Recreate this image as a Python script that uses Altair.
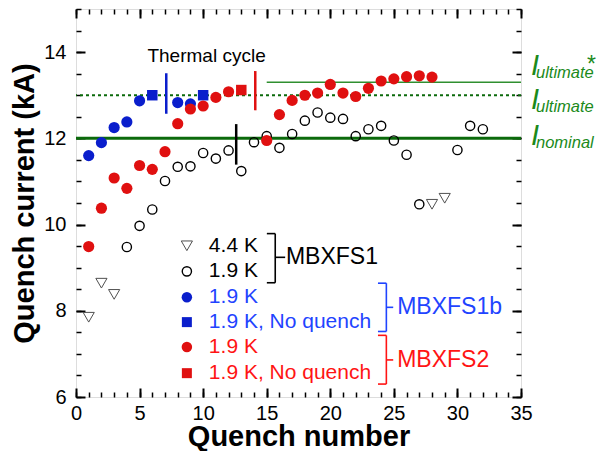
import altair as alt
import pandas as pd

FONT = "Liberation Sans"
BLACK = "#000000"
GRAY = "#505050"
BLUE_M = "#0a1ecc"
BLUE_T = "#1f44ff"
RED_M = "#e01010"
RED_T = "#ff1414"
GREEN_L = "#0b6a0b"
GREEN_L2 = "#2f8f2f"
GREEN_T = "#1b8a1b"

# ---------------- data ----------------
# MBXFS1, 4.4 K (open down-triangles)
mbxfs1_44k_n = [1, 2, 3, 28, 29]
mbxfs1_44k_i = [7.85, 8.64, 8.38, 10.47, 10.61]
# MBXFS1, 1.9 K (open circles)
mbxfs1_19k_n = [4, 5, 6, 7, 8, 9, 10, 11, 12, 13, 14, 15, 16, 17, 18, 19, 20,
                21, 22, 23, 24, 25, 26, 27, 30, 31, 32]
mbxfs1_19k_i = [9.48, 9.97, 10.35, 11.01, 11.34, 11.35, 11.66, 11.53, 11.72,
                11.24, 11.91, 12.05, 11.78, 12.10, 12.41, 12.60, 12.48, 12.45,
                12.05, 12.21, 12.29, 11.95, 11.62, 10.47, 11.73, 12.29, 12.21]
# MBXFS1b, 1.9 K (blue)
mbxfs1b_q_n = [1, 2, 3, 4, 5, 8, 9]
mbxfs1b_q_i = [11.60, 11.90, 12.25, 12.38, 12.87, 12.83, 12.80]
mbxfs1b_nq_n = [6, 10]
mbxfs1b_nq_i = [13.0, 13.0]
# MBXFS2, 1.9 K (red)
mbxfs2_q_n = [1, 2, 3, 4, 5, 6, 7, 8, 9, 10, 11, 12,
              15, 16, 17, 18, 19, 20, 21, 22, 23, 24, 25, 26, 27, 28]
mbxfs2_q_i = [9.49, 10.38, 11.08, 10.84, 11.37, 11.28, 11.69, 12.34, 12.68,
              12.75, 12.95, 13.08,
              11.95, 12.55, 12.88, 13.00, 13.05, 13.25, 13.05, 12.97, 13.16,
              13.33, 13.38, 13.43, 13.45, 13.42]
mbxfs2_nq_n = [13]
mbxfs2_nq_i = [13.12]

# thermal cycle markers
tc_n = [7.1, 12.6, 14.1]
tc_lo = [12.57, 11.39, 12.65]
tc_hi = [13.51, 12.33, 13.56]
tc_color = [BLUE_M, BLACK, RED_M]

# reference currents (kA)
I_NOMINAL = 12.0
I_ULTIMATE = 13.0
I_ULTIMATE_STAR = 13.3
ULT_STAR_FROM = 15

# tick values
x_major = [0, 5, 10, 15, 20, 25, 30, 35]
x_minor = list(range(0, 36))
y_major = [6, 8, 10, 12, 14]
y_minor = [6 + 0.5 * k for k in range(19)]

# ---------------- scales ----------------
xs = alt.Scale(domain=[0, 35], nice=False, zero=False)
ys = alt.Scale(domain=[6, 15], nice=False, zero=False)


def enc(df_chart, xf="n", yf="i"):
    return df_chart.encode(
        x=alt.X(f"{xf}:Q", scale=xs, axis=None),
        y=alt.Y(f"{yf}:Q", scale=ys, axis=None),
    )


def pts(n, i, **mark):
    df = pd.DataFrame({"n": n, "i": i})
    return enc(alt.Chart(df).mark_point(opacity=1, **mark))


# ---------------- axis layers ----------------
def axis_layer(xaxis, yaxis):
    df = pd.DataFrame({"n": [0], "i": [6]})
    return alt.Chart(df).mark_point(opacity=0).encode(
        x=alt.X("n:Q", scale=xs, axis=xaxis),
        y=alt.Y("i:Q", scale=ys, axis=yaxis),
    )


common = dict(domain=False, grid=False, tickColor=BLACK, labelFont=FONT,
              labelColor=BLACK, titleFont=FONT, titleColor=BLACK)

ax_main = axis_layer(
    alt.Axis(orient="bottom", values=x_major, tickSize=9, offset=-9, tickWidth=2,
             labelFontSize=20, labelPadding=6, labelFlush=False, labelOverlap=False,
             title="Quench number", titleFontSize=29, titleFontWeight="bold",
             titlePadding=-1, **common),
    alt.Axis(orient="left", values=y_major, tickSize=9, offset=-9, tickWidth=2,
             labelFontSize=20, labelPadding=10, labelFlush=False, labelOverlap=False,
             title="Quench current (kA)", titleFontSize=29, titleFontWeight="bold",
             titlePadding=4, **common),
)
ax_minor = axis_layer(
    alt.Axis(orient="bottom", values=x_minor, tickSize=5, offset=-5, tickWidth=1.5,
             labels=False, title=None, **common),
    alt.Axis(orient="left", values=y_minor, tickSize=5, offset=-5, tickWidth=1.5,
             labels=False, title=None, **common),
)
ax_main2 = axis_layer(
    alt.Axis(orient="top", values=x_major, tickSize=9, offset=-9, tickWidth=2,
             labels=False, title=None, **common),
    alt.Axis(orient="right", values=y_major, tickSize=9, offset=-9, tickWidth=2,
             labels=False, title=None, **common),
)
ax_minor2 = axis_layer(
    alt.Axis(orient="top", values=x_minor, tickSize=5, offset=-5, tickWidth=1.5,
             labels=False, title=None, **common),
    alt.Axis(orient="right", values=y_minor, tickSize=5, offset=-5, tickWidth=1.5,
             labels=False, title=None, **common),
)

# ---------------- reference lines ----------------
nominal = alt.Chart(pd.DataFrame({"i": [I_NOMINAL]})).mark_rule(
    color=GREEN_L, strokeWidth=3).encode(y=alt.Y("i:Q", scale=ys, axis=None))
ultimate = alt.Chart(pd.DataFrame({"i": [I_ULTIMATE]})).mark_rule(
    color=GREEN_L, strokeWidth=2, strokeDash=[3, 3]).encode(y=alt.Y("i:Q", scale=ys, axis=None))
ult_star = alt.Chart(pd.DataFrame({"n": [ULT_STAR_FROM], "n2": [35], "i": [I_ULTIMATE_STAR]})).mark_rule(
    color=GREEN_L2, strokeWidth=1.5).encode(
    x=alt.X("n:Q", scale=xs, axis=None), x2="n2:Q", y=alt.Y("i:Q", scale=ys, axis=None))

# thermal cycle lines
tc = alt.Chart(pd.DataFrame({"n": tc_n, "lo": tc_lo, "hi": tc_hi, "c": tc_color})).mark_rule(
    strokeWidth=2.5).encode(
    x=alt.X("n:Q", scale=xs, axis=None),
    y=alt.Y("lo:Q", scale=ys, axis=None), y2="hi:Q",
    color=alt.Color("c:N", scale=None))

tc_text = alt.Chart(pd.DataFrame({"n": [10.27], "i": [13.78], "t": ["Thermal cycle"]})).mark_text(
    font=FONT, fontSize=19, align="center", baseline="alphabetic", color=BLACK).encode(
    x=alt.X("n:Q", scale=xs, axis=None), y=alt.Y("i:Q", scale=ys, axis=None), text="t:N")

# ---------------- data marks ----------------
tri = pts(mbxfs1_44k_n, mbxfs1_44k_i, shape="triangle-down", size=125, filled=False,
          stroke=GRAY, strokeWidth=1)
opc = pts(mbxfs1_19k_n, mbxfs1_19k_i, shape="circle", size=85, filled=False,
          stroke=BLACK, strokeWidth=1.4)
bc = pts(mbxfs1b_q_n, mbxfs1b_q_i, shape="circle", size=125, filled=True, color=BLUE_M)
bs = pts(mbxfs1b_nq_n, mbxfs1b_nq_i, shape="square", size=110, filled=True, color=BLUE_M)
rc = pts(mbxfs2_q_n, mbxfs2_q_i, shape="circle", size=125, filled=True, color=RED_M)
rs = pts(mbxfs2_nq_n, mbxfs2_nq_i, shape="square", size=110, filled=True, color=RED_M)

# ---------------- legend ----------------
LEG_SYM_X = 8.72
LEG_TXT_X = 10.45
leg_y = [9.507, 8.914, 8.314, 7.737, 7.160, 6.553]
leg_text = ["4.4 K", "1.9 K", "1.9 K", "1.9 K, No quench", "1.9 K", "1.9 K, No quench"]
leg_color = [BLACK, BLACK, BLUE_T, BLUE_T, RED_T, RED_T]

l_tri = pts([LEG_SYM_X], [leg_y[0]], shape="triangle-down", size=125, filled=False,
            stroke=GRAY, strokeWidth=1)
l_opc = pts([LEG_SYM_X], [leg_y[1]], shape="circle", size=85, filled=False,
            stroke=BLACK, strokeWidth=1.4)
l_bc = pts([LEG_SYM_X], [leg_y[2]], shape="circle", size=110, filled=True, color=BLUE_M)
l_bs = pts([LEG_SYM_X], [leg_y[3]], shape="square", size=100, filled=True, color=BLUE_M)
l_rc = pts([LEG_SYM_X], [leg_y[4]], shape="circle", size=110, filled=True, color=RED_M)
l_rs = pts([LEG_SYM_X], [leg_y[5]], shape="square", size=100, filled=True, color=RED_M)

leg_txt = alt.Chart(pd.DataFrame({"n": [LEG_TXT_X] * 6, "i": leg_y, "t": leg_text, "c": leg_color})).mark_text(
    font=FONT, fontSize=21, align="left", baseline="middle").encode(
    x=alt.X("n:Q", scale=xs, axis=None), y=alt.Y("i:Q", scale=ys, axis=None),
    text="t:N", color=alt.Color("c:N", scale=None))

# brackets: (x of vertical, x of serif end, x of middle tick end, y top, y bottom, y mid, colour)
brackets = [
    (15.67, 15.01, 16.45, 9.79, 8.65, 9.24, BLACK),
    (24.41, 23.75, 24.95, 8.64, 7.52, 8.08, BLUE_T),
    (24.41, 23.75, 24.95, 7.43, 6.30, 6.86, RED_T),
]
seg = {"a": [], "b": [], "p": [], "q": [], "c": []}
for xv, xsf, xt, yt, yb, ym, col in brackets:
    for a, b, p, q in [(xv, xv, yt, yb), (xsf, xv, yt, yt), (xsf, xv, yb, yb), (xv, xt, ym, ym)]:
        seg["a"].append(a); seg["b"].append(b); seg["p"].append(p); seg["q"].append(q); seg["c"].append(col)
br = alt.Chart(pd.DataFrame(seg)).mark_rule(strokeWidth=1.6).encode(
    x=alt.X("a:Q", scale=xs, axis=None), x2="b:Q",
    y=alt.Y("p:Q", scale=ys, axis=None), y2="q:Q",
    color=alt.Color("c:N", scale=None))

grp_txt = alt.Chart(pd.DataFrame({
    "n": [16.51, 25.26, 25.26], "i": [9.24, 8.08, 6.86],
    "t": ["MBXFS1", "MBXFS1b", "MBXFS2"], "c": [BLACK, BLUE_T, RED_T]})).mark_text(
    font=FONT, fontSize=23, align="left", baseline="middle").encode(
    x=alt.X("n:Q", scale=xs, axis=None), y=alt.Y("i:Q", scale=ys, axis=None),
    text="t:N", color=alt.Color("c:N", scale=None))

# ---------------- right-hand labels ----------------
lab_i = [13.48, 12.69, 11.84]
lab_sub = ["ultimate", "ultimate", "nominal"]
lab_df = pd.DataFrame({"n": [35] * 3, "i": lab_i, "big": ["I"] * 3, "sub": lab_sub})
lab_I = alt.Chart(lab_df).mark_text(
    font=FONT, fontSize=29, fontStyle="italic", align="left", baseline="alphabetic",
    dx=10, color=GREEN_T).encode(
    x=alt.X("n:Q", scale=xs, axis=None), y=alt.Y("i:Q", scale=ys, axis=None), text="big:N")
lab_S = alt.Chart(lab_df).mark_text(
    font=FONT, fontSize=16.5, fontStyle="italic", align="left", baseline="alphabetic",
    dx=15, dy=3, color=GREEN_T).encode(
    x=alt.X("n:Q", scale=xs, axis=None), y=alt.Y("i:Q", scale=ys, axis=None), text="sub:N")
lab_star = alt.Chart(pd.DataFrame({"n": [35], "i": [lab_i[0]], "t": ["*"]})).mark_text(
    font=FONT, fontSize=23, align="left", baseline="alphabetic", dx=66, dy=-3,
    color=GREEN_T).encode(
    x=alt.X("n:Q", scale=xs, axis=None), y=alt.Y("i:Q", scale=ys, axis=None), text="t:N")

chart = alt.layer(
    ax_main, ax_minor, ax_main2, ax_minor2,
    nominal, ultimate, ult_star,
    tri, opc, bc, bs, rc, rs,
    tc, tc_text,
    l_tri, l_opc, l_bc, l_bs, l_rc, l_rs, leg_txt, br, grp_txt,
    lab_I, lab_S, lab_star,
).resolve_axis(x="independent", y="independent").properties(
    width=445, height=388,
    autosize=alt.AutoSizeParams(type="none"),
    padding={"left": 68, "top": 1, "right": 75, "bottom": 54},
).configure_view(stroke=BLACK, strokeWidth=2.5).configure(background="white")

chart.save("out.html", embed_options={"renderer": "svg", "actions": False})
